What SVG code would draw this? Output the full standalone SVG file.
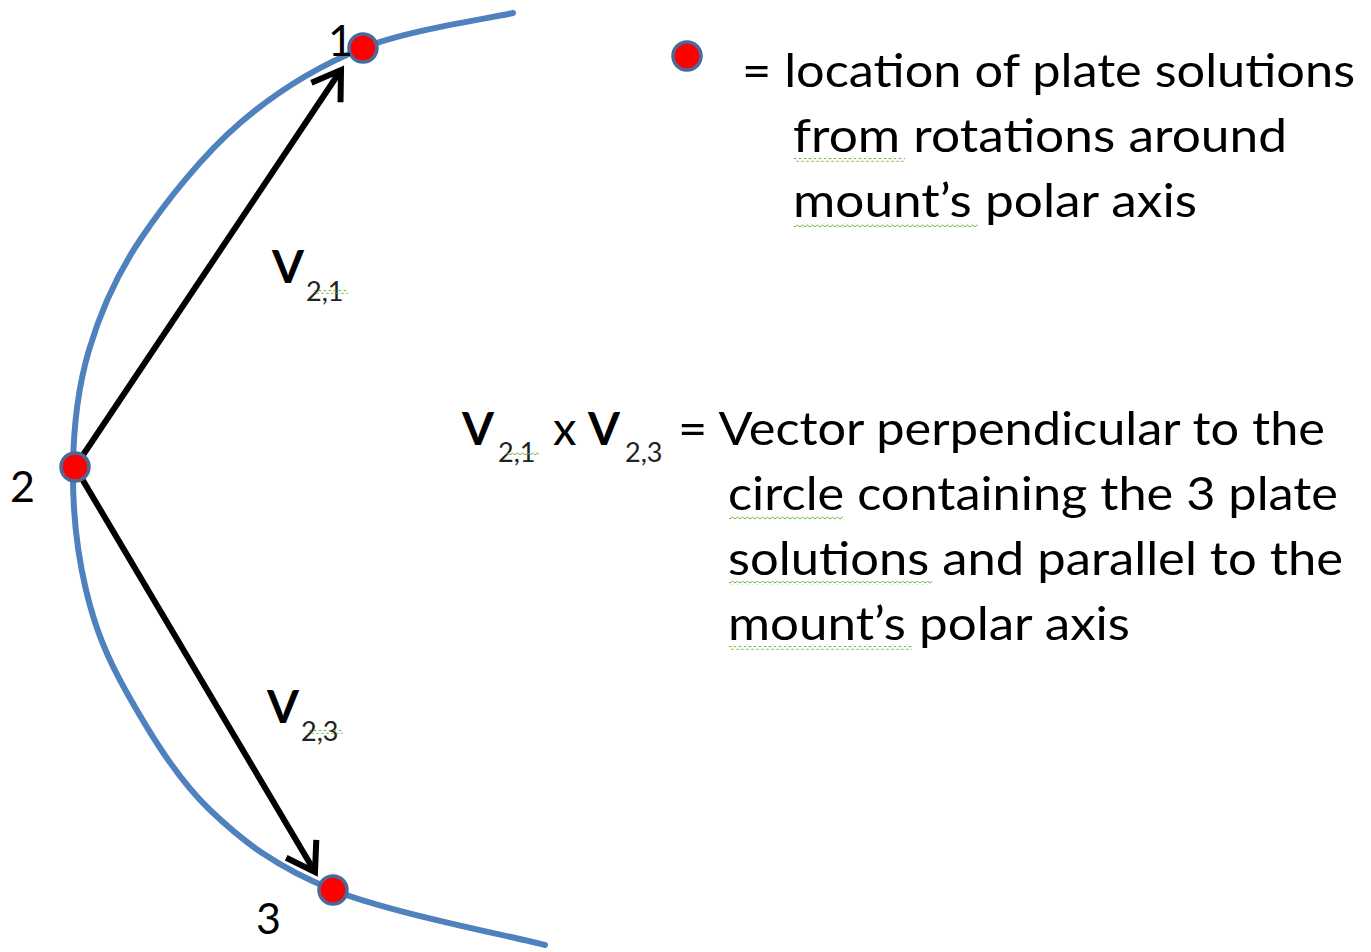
<svg xmlns="http://www.w3.org/2000/svg" width="1371" height="952" viewBox="0 0 1371 952">
<style>
.t{font-family:Lato,"Open Sans","Liberation Sans",sans-serif;fill:#000}
.m{font-size:47px}
.v{font-size:46px;font-weight:bold}
.s{font-size:27px;fill:#222}
.n{font-size:43px}
.dot{fill:#FF0000;stroke:#4A6A9A;stroke-width:3.5}
.arc{fill:none;stroke:#4F81BD;stroke-width:6;stroke-linecap:round}
.vec{fill:none;stroke:#000;stroke-width:6}
</style>
<defs>
<marker id="chev" markerUnits="userSpaceOnUse" viewBox="-40 -30 50 60" markerWidth="50" markerHeight="60" refX="0" refY="0" orient="auto" overflow="visible">
<path d="M-27,-17.5 L0,0 L-27,17.5" fill="none" stroke="#000" stroke-width="6" stroke-linejoin="miter"/>
</marker>
<pattern id="sq" x="0" y="0" width="5" height="4" patternUnits="userSpaceOnUse">
<path d="M0,3 L2.5,1 L5,3" fill="none" stroke="#6DB33F" stroke-width="1"/>
</pattern>
</defs>
<rect width="1371" height="952" fill="#FFFFFF"/>
<g id="circle-arc">
<path class="arc" d="M513,13 C488,18.8 408.5,29.7 363,48 C317.5,66.3 277.2,91 240,123 C202.8,155 165.2,202.2 140,240 C114.8,277.8 100.2,312.2 89,350 C77.8,387.8 73.5,427 73,467 C72.5,507 77,552.3 86,590 C95,627.7 106.3,656.3 127,693 C147.7,729.7 175.7,777.2 210,810 C244.3,842.8 277.2,867.5 333,890 C388.8,912.5 509.7,935.8 545,945"/>
</g>
<g id="connectors">
<path id="v21" class="vec" d="M75,467 L341,70" marker-end="url(#chev)"/>
<path id="v23" class="vec" d="M75,467 L315,872" marker-end="url(#chev)"/>
</g>
<g id="node-1">
<circle class="dot" cx="363" cy="48" r="14"/>
<text class="t n" x="328" y="56">1</text>
</g>
<g id="node-2">
<circle class="dot" cx="75" cy="467" r="14"/>
<text class="t n" x="10" y="502">2</text>
</g>
<g id="node-3">
<circle class="dot" cx="333" cy="890" r="14"/>
<text class="t n" x="256" y="934">3</text>
</g>
<g id="label-v21">
<text class="t v" x="272" y="283">V</text>
<text class="t s" x="306" y="301">2,1</text>
<rect x="314" y="290" width="34" height="4" fill="url(#sq)"/>
</g>
<g id="label-v23">
<text class="t v" x="267" y="723">V</text>
<text class="t s" x="301" y="741">2,3</text>
<rect x="309" y="730" width="34" height="4" fill="url(#sq)"/>
</g>
<g id="legend">
<circle class="dot" cx="687" cy="56" r="14"/>
<text class="t m" x="742" y="87" textLength="613" lengthAdjust="spacingAndGlyphs">= location of plate solutions</text>
<text class="t m" x="793" y="152" textLength="494" lengthAdjust="spacingAndGlyphs">from rotations around</text>
<text class="t m" x="793" y="217" textLength="404" lengthAdjust="spacingAndGlyphs">mount’s polar axis</text>
<rect x="794" y="158" width="111" height="4" fill="url(#sq)"/>
<rect x="794" y="223" width="184" height="4" fill="url(#sq)"/>
</g>
<g id="cross-product">
<text class="t v" x="462" y="445">V</text>
<text class="t s" x="498" y="462">2,1</text>
<rect x="505" y="451" width="34" height="4" fill="url(#sq)"/>
<text class="t m" x="553" y="445">x</text>
<text class="t v" x="588" y="445">V</text>
<text class="t s" x="625" y="462">2,3</text>
<text class="t m" x="678" y="445" textLength="647" lengthAdjust="spacingAndGlyphs">= Vector perpendicular to the</text>
<text class="t m" x="728" y="510" textLength="610" lengthAdjust="spacingAndGlyphs">circle containing the 3 plate</text>
<text class="t m" x="728" y="575" textLength="615" lengthAdjust="spacingAndGlyphs">solutions and parallel to the</text>
<text class="t m" x="728" y="640" textLength="402" lengthAdjust="spacingAndGlyphs">mount’s polar axis</text>
<rect x="729" y="516" width="114" height="4" fill="url(#sq)"/>
<rect x="729" y="581" width="203" height="4" fill="url(#sq)"/>
<rect x="729" y="646" width="183" height="4" fill="url(#sq)"/>
</g>
</svg>
